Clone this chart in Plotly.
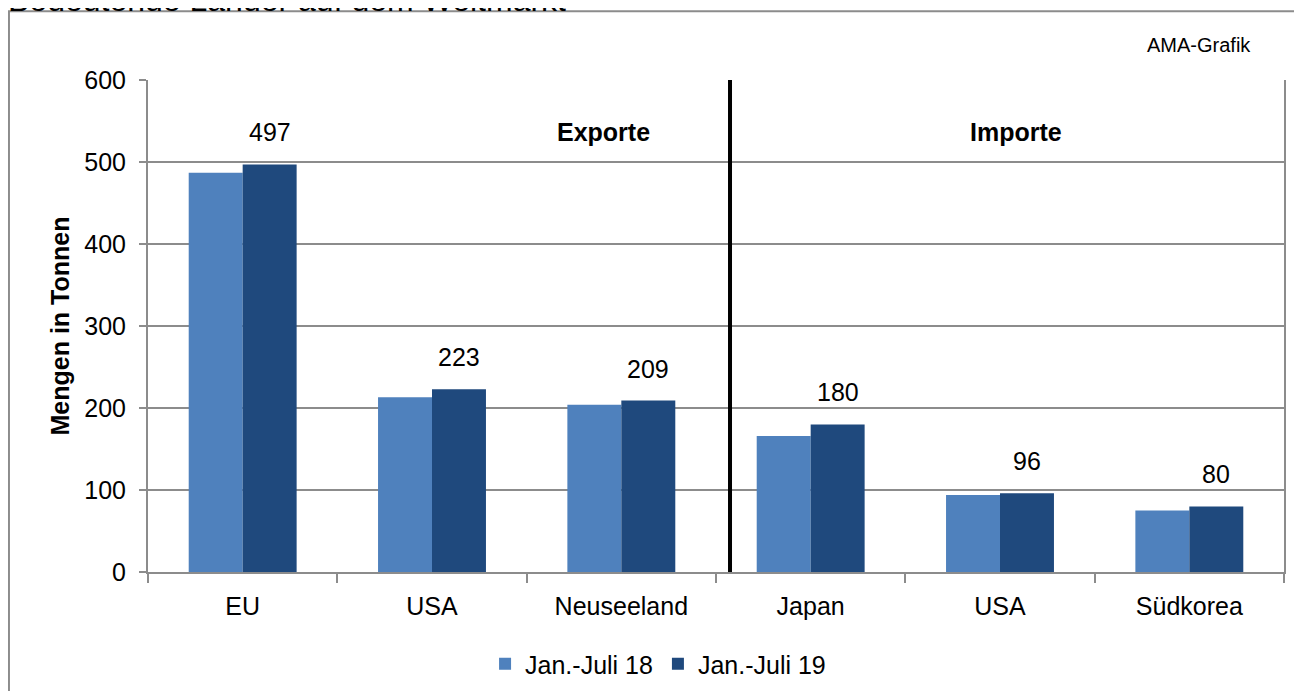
import plotly.graph_objects as go

categories = ["EU", "USA", "Neuseeland", "Japan", "USA", "Südkorea"]
positions = [0, 1, 2, 3, 4, 5]
series_names = ["Jan.-Juli 18", "Jan.-Juli 19"]
values_18 = [487, 213, 204, 166, 94, 75]
values_19 = [497, 223, 209, 180, 96, 80]
colors = ["#4F81BD", "#1F497D"]

FONT = "Liberation Sans, Arial, sans-serif"
GRID = "#8C8C8C"

fig = go.Figure()
fig.add_trace(go.Bar(x=positions, y=values_18, name=series_names[0],
                     marker=dict(color=colors[0], line=dict(width=0))))
fig.add_trace(go.Bar(x=positions, y=values_19, name=series_names[1],
                     marker=dict(color=colors[1], line=dict(width=0))))

bar_w = (1 - 0.43) / 2
annotations = []
for xi, v in zip(positions, values_19):
    annotations.append(dict(x=xi + bar_w / 2, y=v, xref="x", yref="y", text=str(v),
                            showarrow=False, xanchor="center", yanchor="bottom", yshift=16,
                            font=dict(size=25, color="black", family=FONT)))
annotations += [
    dict(x=1.908, y=536, xref="x", yref="y", text="<b>Exporte</b>", showarrow=False,
         xanchor="center", yanchor="middle",
         font=dict(size=25, color="black", family=FONT)),
    dict(x=4.085, y=536, xref="x", yref="y", text="<b>Importe</b>", showarrow=False,
         xanchor="center", yanchor="middle",
         font=dict(size=25, color="black", family=FONT)),
    dict(x=0.925, y=1.071, xref="paper", yref="paper", text="AMA-Grafik", showarrow=False,
         xanchor="center", yanchor="middle",
         font=dict(size=20, color="black", family=FONT)),
    dict(x=-0.125, y=1.121, xref="paper", yref="paper", xanchor="left", yanchor="bottom",
         text="Bedeutende Länder auf dem Weltmarkt", showarrow=False,
         font=dict(size=32, color="black", family=FONT)),
]

shapes = [
    dict(type="line", xref="x", yref="y", x0=2.574, x1=2.574, y0=-19.5, y1=602.5,
         line=dict(color="black", width=4)),
    dict(type="rect", xref="paper", yref="paper", x0=-0.1224, x1=1.03, y0=-0.3, y1=1.1397,
         line=dict(color=GRID, width=2), fillcolor="rgba(0,0,0,0)", layer="below"),
]

fig.update_layout(
    width=1302, height=691,
    margin=dict(l=140, r=26, t=72, b=125),
    paper_bgcolor="white", plot_bgcolor="white",
    barmode="group", bargap=0.43, bargroupgap=0,
    font=dict(family=FONT, size=25, color="black"),
    showlegend=True,
    legend=dict(orientation="h", x=0.449, xanchor="center", y=-0.187, yanchor="middle",
                font=dict(size=25, family=FONT, color="black"), itemwidth=30,
                traceorder="normal"),
    annotations=annotations,
    shapes=shapes,
)

fig.update_xaxes(
    range=[-0.5, 5.5], tickmode="array", tickvals=positions, ticktext=categories,
    ticks="outside", ticklen=11, tickcolor="rgba(0,0,0,0)",
    showgrid=False, zeroline=False,
    showline=True, linecolor=GRID, linewidth=2,
    tickfont=dict(size=25, family=FONT, color="black"),
    minor=dict(tick0=-0.5, dtick=1, ticks="outside", ticklen=9, tickcolor=GRID,
               tickwidth=2, showgrid=False),
)
fig.update_yaxes(
    range=[0, 600], tickvals=[0, 100, 200, 300, 400, 500, 600],
    ticks="outside", ticklen=7, tickcolor=GRID, tickwidth=2,
    showgrid=True, gridcolor=GRID, gridwidth=2, zeroline=False,
    showline=True, linecolor=GRID, linewidth=2, mirror=True,
    ticklabelstandoff=8,
    tickfont=dict(size=25, family=FONT, color="black"),
    title=dict(text="<b>Mengen in Tonnen</b>", font=dict(size=25, family=FONT, color="black"),
               standoff=8),
)

fig.write_html("out.html")
